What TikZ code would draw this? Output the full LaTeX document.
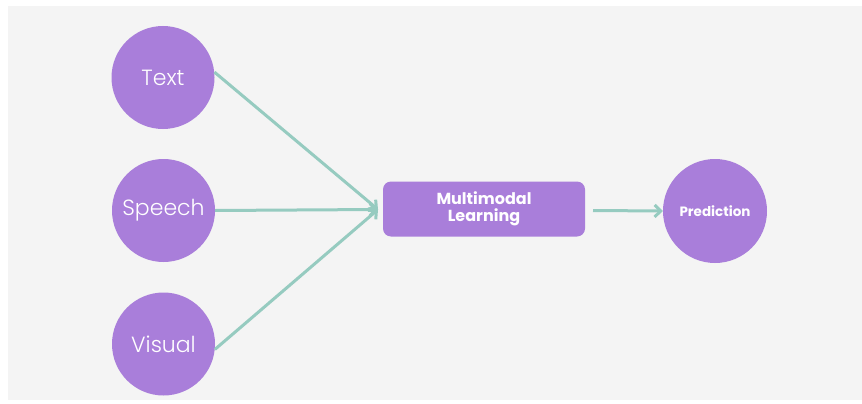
\documentclass[tikz,border=0pt]{standalone}
\usepackage{fontspec}
\setmainfont{Poppins}
\newfontfamily\lightfont{Poppins Light}
\usetikzlibrary{arrows.meta}
\definecolor{bgpanel}{HTML}{F4F4F4}
\definecolor{nodepurple}{HTML}{A97EDA}
\definecolor{linkteal}{HTML}{96CBC0}
\begin{document}
\begin{tikzpicture}[x=1pt,y=-1pt,
  inputnode/.style={circle,fill=nodepurple,minimum size=103pt,inner sep=0pt,
    text=white,font=\lightfont\fontsize{22}{24}\selectfont},
  outnode/.style={circle,fill=nodepurple,minimum size=104pt,inner sep=0pt,
    text=white,font=\bfseries\fontsize{13.5}{15}\selectfont},
  corebox/.style={rectangle,rounded corners=8pt,fill=nodepurple,
    minimum width=202pt,minimum height=55pt,inner sep=0pt,align=center,
    text=white,font=\bfseries\fontsize{16}{17}\selectfont},
  link/.style={draw=linkteal,line width=3pt,
    -{Straight Barb[length=6pt,width=12pt,line width=3pt]}}]
  % frame and backdrop
  \useasboundingbox (0,0) rectangle (862,404);
  \fill[white] (0,0) rectangle (862,404);
  \fill[bgpanel] (8,6) rectangle (862,400);
  % nodes
  \node[inputnode] (text)   at (163,77.5)  {Text};
  \node[inputnode] (speech) at (163.5,210.5) {Speech};
  \node[inputnode] (visual) at (163.5,344) {Visual};
  \node[corebox]   (mml)    at (484,209)   {Multimodal\\Learning};
  \node[outnode]   (pred)   at (715,211)   {Prediction};
  % connectors
  \coordinate (hub) at (378,209.5);
  \draw[link] (text.6) -- (hub);
  \draw[link] (speech.east) -- (hub);
  \draw[link] (visual.-6) -- (hub);
  \coordinate (out0) at (593,210.5);
  \draw[link] (out0) -- (pred.west);
\end{tikzpicture}
\end{document}
